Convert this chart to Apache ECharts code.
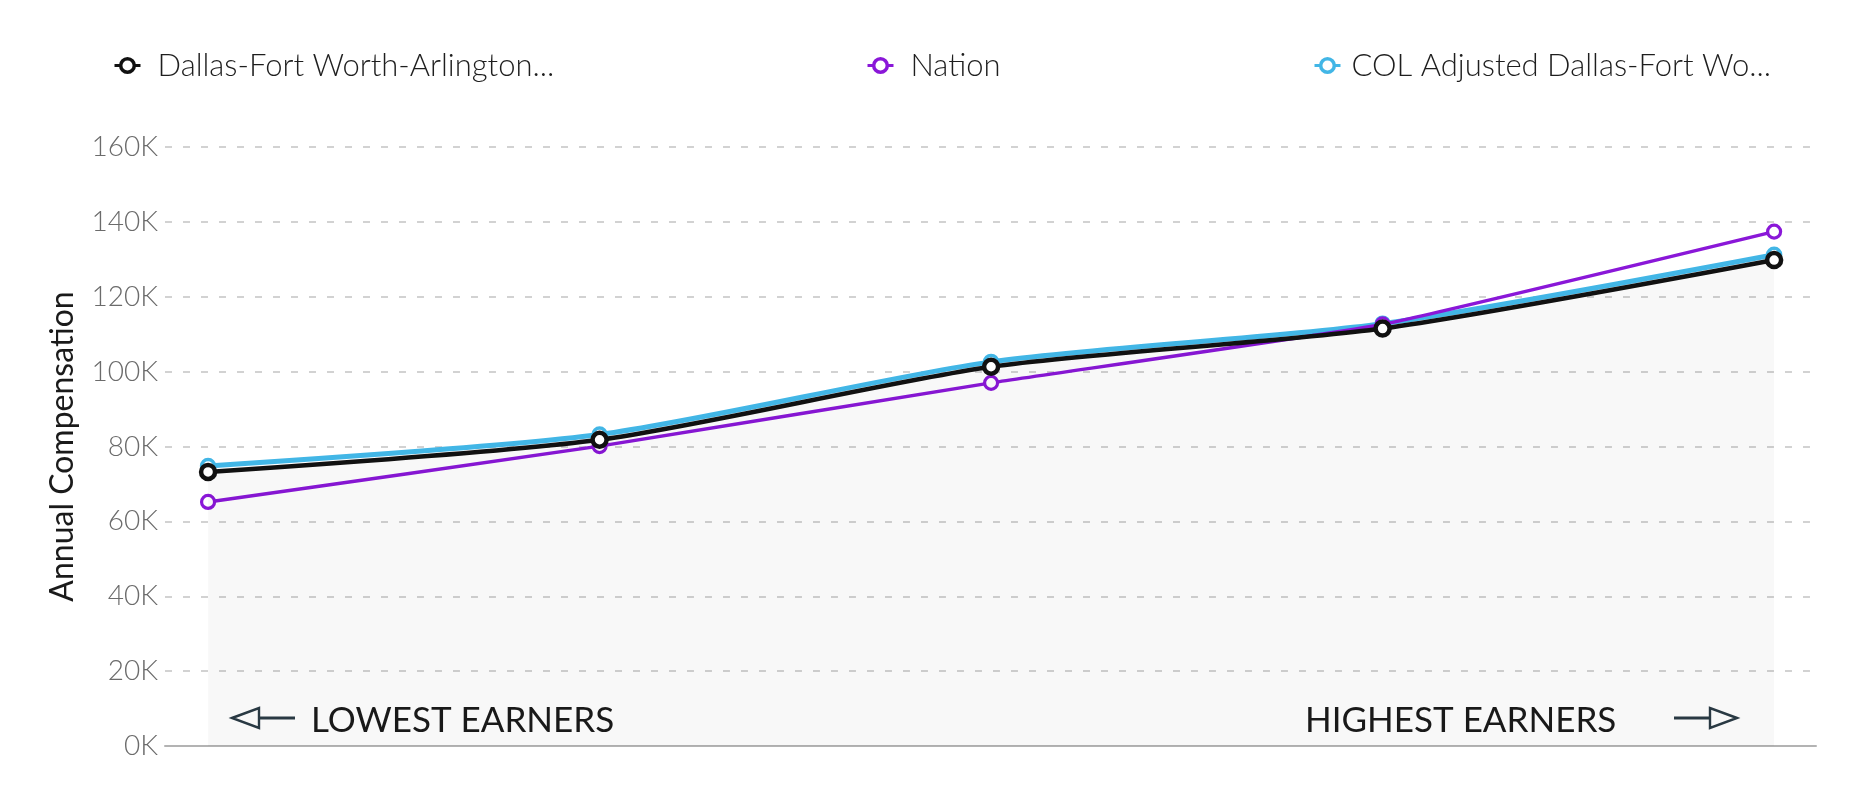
<!DOCTYPE html>
<html>
<head>
<meta charset="UTF-8">
<title></title>
<script src="https://cdn.jsdelivr.net/npm/echarts@6/dist/echarts.min.js"></script>
<style>
  html, body { margin: 0; padding: 0; background: #fff; }
  #chart { width: 1865px; height: 800px; }
</style>
</head>
<body>
<div id="chart"></div>
<script>
// earner groups, lowest to highest (positions along the x axis)
var groups = [1, 2, 3, 4, 5];
var dallasName = 'Dallas-Fort Worth-Arlington...';
var nationName = 'Nation';
var colName = 'COL Adjusted Dallas-Fort Wo...';
var dallas = [73200, 81800, 101300, 111500, 129800];
var nation = [65200, 80100, 97000, 112600, 137400];
var colAdj = [74800, 83200, 102600, 112800, 131200];
var yTicks = [0, 20000, 40000, 60000, 80000, 100000, 120000, 140000, 160000];

function pairs(vals) {
  return groups.map(function (g, i) { return [g, vals[i]]; });
}

var chart = echarts.init(document.getElementById('chart'));
var font = 'Lato, "Open Sans", sans-serif';

function legendAt(left, name, pad) {
  return {
    left: left, top: 45,
    itemWidth: 26, itemHeight: 17,
    data: [name],
    itemStyle: { borderWidth: 3.5 },
    lineStyle: { width: 3 },
    textStyle: { fontFamily: font, fontWeight: 300, fontSize: 31, color: '#1e1e1e', padding: [0, 0, 0, pad] }
  };
}

function arrow(tipX, y, tailX) {
  var dir = tailX > tipX ? 1 : -1;
  var head = 27;
  return {
    type: 'group',
    children: [
      { type: 'line', shape: { x1: tipX + dir * head * 0.9, y1: y, x2: tailX, y2: y },
        style: { stroke: '#2b3b45', lineWidth: 2.8 } },
      { type: 'polygon', shape: { points: [[tipX, y], [tipX + dir * head, y - 10], [tipX + dir * head, y + 10]] },
        style: { fill: '#fff', stroke: '#2b3b45', lineWidth: 2.4 } }
    ]
  };
}

function ring(color, width) {
  return { color: '#fff', borderColor: color, borderWidth: width };
}

var option = {
  animation: false,
  legend: [legendAt(108, dallasName, 12), legendAt(861, nationName, 12), legendAt(1308, colName, 6)],
  grid: { left: 165, right: 49, top: 147, bottom: 54 },
  xAxis: {
    type: 'value', min: 0.89, max: 5.107,
    axisLine: { show: true, onZero: false, lineStyle: { color: '#b3b3b3', width: 2 } },
    axisTick: { show: false }, axisLabel: { show: false }, splitLine: { show: false }
  },
  yAxis: {
    type: 'value', min: yTicks[0], max: yTicks[yTicks.length - 1], interval: 20000,
    name: 'Annual Compensation', nameLocation: 'middle', nameGap: 86,
    nameTextStyle: { fontFamily: font, fontSize: 32, color: '#1a1a1a' },
    axisLine: { show: false }, axisTick: { show: false },
    axisLabel: {
      margin: 7, fontFamily: font, fontWeight: 300, fontSize: 28, color: '#6b6b6b',
      formatter: function (v) { return (v / 1000) + 'K'; }
    },
    splitLine: { lineStyle: { color: '#c4c4c4', width: 1.5, type: [7, 11] } }
  },
  graphic: [
    arrow(232, 718, 295),
    { type: 'text', x: 311, y: 721, style: { text: 'LOWEST EARNERS', fontFamily: font, fontSize: 35, fill: '#1a1a1a', verticalAlign: 'middle' } },
    { type: 'text', x: 1305, y: 721, style: { text: 'HIGHEST EARNERS', fontFamily: font, fontSize: 35, fill: '#1a1a1a', verticalAlign: 'middle' } },
    arrow(1737, 718, 1674)
  ],
  series: [
    {
      name: colName, type: 'line', data: pairs(colAdj), smooth: 0.25, z: 2,
      symbol: 'circle', symbolSize: 13,
      itemStyle: ring('#42b6e6', 3.5),
      lineStyle: { color: '#42b6e6', width: 5 }
    },
    {
      name: nationName, type: 'line', data: pairs(nation), smooth: 0.1, z: 3,
      symbol: 'circle', symbolSize: 13,
      itemStyle: ring('#8a17d8', 3.2),
      lineStyle: { color: '#8a17d8', width: 3.5 }
    },
    {
      name: dallasName, type: 'line', data: pairs(dallas), smooth: 0.25, z: 4,
      symbol: 'circle', symbolSize: 14,
      itemStyle: ring('#111', 4.5),
      lineStyle: { color: '#111', width: 4.5 },
      areaStyle: { color: 'rgba(0,0,0,0.04)', origin: 'start' }
    }
  ]
};
chart.setOption(option);
window.onresize = chart.resize;
</script>
</body>
</html>
